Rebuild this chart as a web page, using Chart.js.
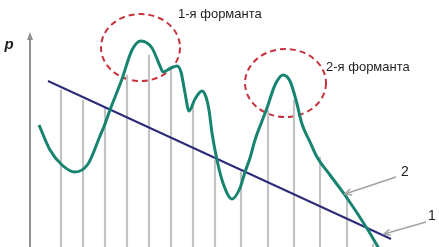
<!DOCTYPE html>
<html>
<head>
<meta charset="utf-8">
<script src="https://cdn.jsdelivr.net/npm/chart.js@4/dist/chart.umd.min.js"></script>
<style>
html,body{margin:0;padding:0;background:#fff;}
#wrap{position:relative;width:439px;height:247px;}
</style>
</head>
<body>
<div id="wrap"><canvas id="c"></canvas></div>
<script>
// Spectral envelope (curve 2)
const envFreq = [9,20,32,45,58,70,75,80,92,102,111,122,130,133,141,147,151,155,159,165,172,176,179,182,187,193,202,210,215,220,225,232,237,245,253,260,266,272,280,287,300,317,338,348,352];
const envLevel = [122,97,82,75,83,111,123,137,168,197,206,199,181,175,179,181,175,154,136,148,156,150,137,114,87,64,48,59,75,89,107,126,139,162,172,166,147,123,105,90,72,49,17,0,-7];
// Straight line 1
const lineFreq = [18,361];
const lineLevel = [166,8];
// Harmonic lines
const harmFreq = [31,53,75,97,119,141,163,185,211,238,264,290,317,343];
const harmLevel = [157,147,140,172,192,177,140,87,75,137,147,90,51,3];
// Formant regions (centre freq, centre level, half-width, half-height)
const formantNames = ['1-я форманта','2-я форманта'];
const formantFreq = [110.5,255.5];
const formantLevel = [199.5,164];
const formantRx = [39.5,40.5];
const formantRy = [33.5,34];
const axisLabel = 'p';
const curveLabels = ['2','1'];

const toPts = (xs, ys) => xs.map((x,i)=>({x:x,y:ys[i]}));

const extras = {
  id:'extras',
  beforeDatasetsDraw(chart){
    const {ctx, scales:{x,y}} = chart;
    ctx.save();
    // y axis with arrow
    const ax = x.getPixelForValue(0);
    ctx.strokeStyle = '#8e8e8e';
    ctx.fillStyle = '#8e8e8e';
    ctx.lineWidth = 2;
    ctx.beginPath();
    ctx.moveTo(ax, 247);
    ctx.lineTo(ax, 38);
    ctx.stroke();
    ctx.beginPath();
    ctx.moveTo(ax, 32);
    ctx.lineTo(ax-3, 40);
    ctx.lineTo(ax+3, 40);
    ctx.closePath();
    ctx.fill();
    // formant ellipses
    ctx.strokeStyle = '#c8323e';
    ctx.lineWidth = 2;
    ctx.setLineDash([6,4]);
    for(let i=0;i<formantFreq.length;i++){
      const cx = x.getPixelForValue(formantFreq[i]);
      const cy = y.getPixelForValue(formantLevel[i]);
      const rx = Math.abs(x.getPixelForValue(formantFreq[i]+formantRx[i]) - cx);
      const ry = Math.abs(y.getPixelForValue(formantLevel[i]+formantRy[i]) - cy);
      ctx.beginPath();
      ctx.ellipse(cx, cy, rx, ry, 0, 0, Math.PI*2);
      ctx.stroke();
    }
    ctx.restore();
  },
  afterDatasetsDraw(chart){
    const {ctx} = chart;
    ctx.save();
    ctx.fillStyle = '#1e1e1e';
    ctx.textBaseline = 'middle';
    ctx.textAlign = 'left';
    ctx.font = '13px "Liberation Sans", Arial, sans-serif';
    ctx.fillText(formantNames[0], 178, 14);
    ctx.fillText(formantNames[1], 326, 67);
    ctx.font = '14px "Liberation Sans", Arial, sans-serif';
    ctx.textAlign = 'center';
    ctx.fillText(curveLabels[0], 405, 172);
    ctx.fillText(curveLabels[1], 432, 216);
    ctx.font = 'italic bold 15px "Liberation Sans", Arial, sans-serif';
    ctx.fillText(axisLabel, 9, 45);
    // pointer arrows
    const arrow = (x1,y1,x2,y2)=>{
      ctx.strokeStyle = '#a3a3a3';
      ctx.lineWidth = 1.5;
      ctx.beginPath();
      ctx.moveTo(x1,y1); ctx.lineTo(x2,y2); ctx.stroke();
      const a = Math.atan2(y2-y1, x2-x1);
      const L = 7;
      ctx.beginPath();
      ctx.moveTo(x2 - L*Math.cos(a-0.45), y2 - L*Math.sin(a-0.45));
      ctx.lineTo(x2, y2);
      ctx.lineTo(x2 - L*Math.cos(a+0.45), y2 - L*Math.sin(a+0.45));
      ctx.stroke();
    };
    arrow(396,177,345,194);
    arrow(426,222,384,234);
    ctx.restore();
  }
};

new Chart(document.getElementById('c'), {
  type:'bar',
  data:{
    datasets:[
      {type:'bar', data: toPts(harmFreq, harmLevel), backgroundColor:'#c2c2c2', barThickness:1.5, order:3},
      {type:'line', data: toPts(lineFreq, lineLevel), borderColor:'#2d2b7a', borderWidth:2, pointRadius:0, fill:false, order:2},
      {type:'line', data: toPts(envFreq, envLevel), borderColor:'#178470', borderWidth:3, pointRadius:0, fill:false, cubicInterpolationMode:'monotone', order:1}
    ]
  },
  options:{
    responsive:true,
    maintainAspectRatio:false,
    animation:false,
    devicePixelRatio:1,
    layout:{padding:0},
    plugins:{legend:{display:false}, tooltip:{enabled:false}},
    scales:{
      x:{type:'linear', min:-30, max:409, offset:false, display:false},
      y:{type:'linear', min:0, max:247, display:false}
    }
  },
  plugins:[extras]
});
</script>
</body>
</html>
